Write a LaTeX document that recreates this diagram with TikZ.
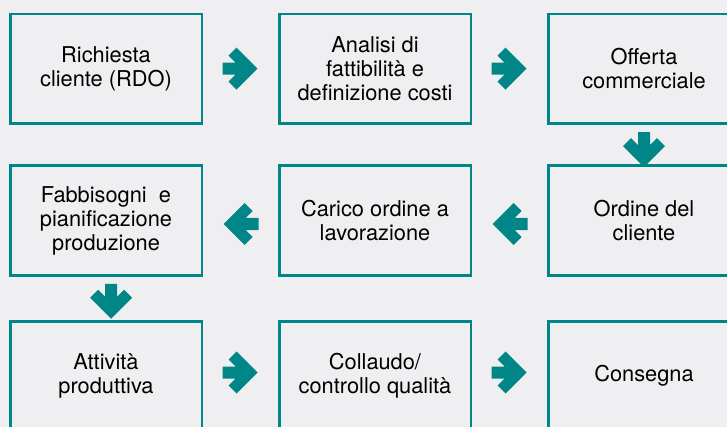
\documentclass[tikz,border=0pt]{standalone}
\usepackage{fontspec}
\setmainfont{TeX Gyre Heros}
\usetikzlibrary{calc}
\definecolor{verde}{RGB}{0,134,134}
\definecolor{sfondo}{RGB}{239,239,242}

\tikzset{
  fase/.style={draw=verde, line width=1.25pt, outer sep=0pt, inner sep=0pt,
    minimum width=95.75pt, minimum height=54.75pt, align=center,
    font=\fontsize{10.9}{12}\selectfont},
  freccia/.pic={
    \fill[verde] (17,0) -- (-4,-21) -- (-12,-13) -- (-5,-6) -- (-18,-6)
      -- (-18,6) -- (-5,6) -- (-12,13) -- (-4,21) -- cycle;
  }
}

\begin{document}
\begin{tikzpicture}[x=0.5pt,y=-0.5pt]
            \fill[sfondo] (0,0) rectangle (727,427);
            \useasboundingbox (0,0) rectangle (727,427);
            \clip (0,0) rectangle (727,427);

            % prima riga
            \node[fase] (richiesta) at (106,68.7) {Richiesta\\cliente (RDO)};
            \node[fase] (analisi) at (375,68.7) {Analisi di\\fattibilità e\\definizione costi};
            \node[fase] (offerta) at (644,68.7) {Offerta\\commerciale};

            % seconda riga
            \node[fase] (ordine) at (644,220.5) {Ordine del\\cliente};
            \node[fase] (carico) at (375,220.5) {Carico ordine a\\lavorazione};
            \node[fase] (fabbisogni) at (106,220.5) {Fabbisogni~ e\\pianificazione\\produzione};

            % terza riga
            \node[fase] (attivita) at (106,376) {Attività\\produttiva};
            \node[fase] (collaudo) at (375,376) {Collaudo/\\controllo qualità};
            \node[fase] (consegna) at (644,376) {Consegna};

            \pic at ($(richiesta.east)!0.5!(analisi.west)$) {freccia};
            \pic at ($(analisi.east)!0.5!(offerta.west)$) {freccia};
            \pic[rotate=-90] at ($(offerta.south)!0.5!(ordine.north)+(0,5.5)$) {freccia};
            \pic[rotate=180] at ($(ordine.west)!0.5!(carico.east)+(0,3.5)$) {freccia};
            \pic[rotate=180] at ($(carico.west)!0.5!(fabbisogni.east)+(0,3.5)$) {freccia};
            \pic[rotate=-90] at ($(fabbisogni.south)!0.5!(attivita.north)+(5,3.5)$) {freccia};
            \pic at ($(attivita.east)!0.5!(collaudo.west)+(0,-3.5)$) {freccia};
            \pic at ($(collaudo.east)!0.5!(consegna.west)+(0,-3.5)$) {freccia};
        \end{tikzpicture}
\end{document}
